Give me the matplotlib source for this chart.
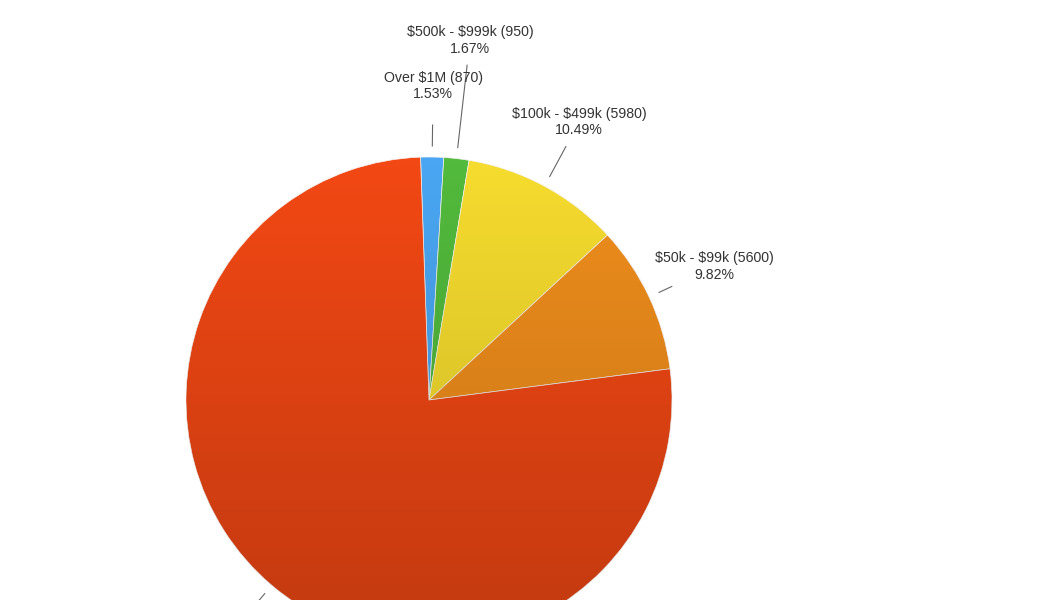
import numpy as np
import matplotlib.pyplot as plt
from matplotlib.patches import Circle

# slices clockwise from the top
categories = ['Over $1M', '$500k - $999k', '$100k - $499k', '$50k - $99k', 'Under $50k']
counts = [870, 950, 5980, 5600, 43610]
percents = ['1.53%', '1.67%', '10.49%', '9.82%', '76.49%']
colors = ['#4aa6f2', '#52ba3c', '#f6dc2e', '#f08e1c', '#f24814']

# where the leader lines end / labels sit (in pixels from the center)
line_out = [275, 337, 288, 268, 272]
label_r = [314, 362, 316, 315, 380]

plt.rcParams['font.family'] = ['Liberation Sans', 'DejaVu Sans']
plt.rcParams['text.parse_math'] = False

fig = plt.figure(figsize=(10.5, 6), dpi=100)
ax = fig.add_axes([0, 0, 1, 1])

cx, cy, R = 429, 200, 243
wedges, _ = ax.pie(counts, colors=colors, startangle=92, counterclock=False,
                   center=(cx, cy), radius=R, frame=True,
                   wedgeprops=dict(linewidth=0.5, edgecolor='#f4f4f4'))
ax.set_xlim(0, 1050)
ax.set_ylim(0, 600)
ax.set_aspect('equal')
ax.axis('off')

# soft vertical shading like the original
grad = np.linspace(0, 1, 256).reshape(-1, 1)
shade = np.zeros((256, 1, 4))
shade[..., 3] = (1 - grad) * 0.2
img = ax.imshow(shade, extent=(cx - R, cx + R, cy - R, cy + R), origin='lower',
                aspect='auto', zorder=3)
img.set_clip_path(Circle((cx, cy), R, transform=ax.transData))

total = sum(counts)
start = 92.0
for i, cat in enumerate(categories):
    span = counts[i] / total * 360
    mid = np.deg2rad(start - span / 2)
    start -= span
    c, s = np.cos(mid), np.sin(mid)
    ax.plot([cx + 254 * c, cx + line_out[i] * c], [cy + 254 * s, cy + line_out[i] * s],
            color='#666666', lw=0.8, zorder=4)
    ty = cy + label_r[i] * s
    if ty < 0:
        # label of the big slice falls below the picture, as in the original
        continue
    ax.text(cx + label_r[i] * c, ty,
            f'{cat} ({counts[i]})\n{percents[i]}', ha='center', va='center',
            fontsize=10.2, color='#333333', linespacing=1.25, zorder=5)

fig.savefig('out.png', dpi=100)
